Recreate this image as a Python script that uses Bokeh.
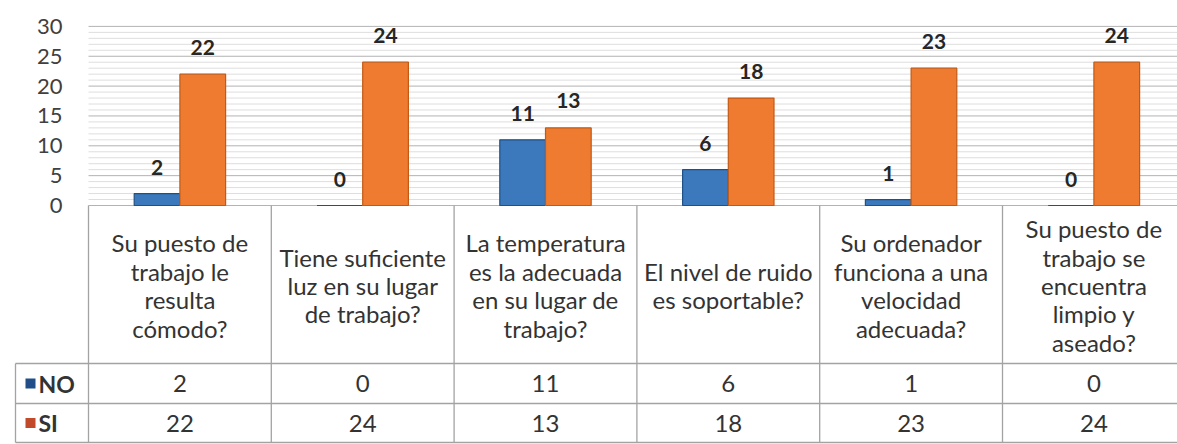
from bokeh.plotting import figure
from bokeh.models import Range1d
from bokeh.embed import file_html
from bokeh.resources import INLINE
from bokeh.core.properties import value

# ---- data ----
categories = [
    "Su puesto de\ntrabajo le\nresulta\ncómodo?",
    "Tiene suficiente\nluz en su lugar\nde trabajo?",
    "La temperatura\nes la adecuada\nen su lugar de\ntrabajo?",
    "El nivel de ruido\nes soportable?",
    "Su ordenador\nfunciona a una\nvelocidad\nadecuada?",
    "Su puesto de\ntrabajo se\nencuentra\nlimpio y\naseado?",
]
series_names = ["NO", "SI"]
no_values = [2, 0, 11, 6, 1, 0]
si_values = [22, 24, 13, 18, 23, 24]
y_ticks = [0, 5, 10, 15, 20, 25, 30]
y_max = 30

# ---- styles ----
FONT = "Lato"
NO_COLOR, NO_EDGE = "#3B78BC", "#1F5186"
SI_COLOR, SI_EDGE = "#EE7B2F", "#C25A16"
NO_SWATCH, SI_SWATCH = "#1F4E89", "#C04A2A"
TEXT = "#333333"
BORDER = "#a3a3a3"

PX_X = 182.8
PX_Y = 5.97
W, H = 1177, 444
x0_px, y0_px = 88, 205   # canvas position of category 0 / value 0

xr = Range1d(-x0_px / PX_X, (W - x0_px) / PX_X)
yr = Range1d(-(H - y0_px) / PX_Y, y0_px / PX_Y)

p = figure(width=W, height=H, x_range=xr, y_range=yr,
           output_backend="svg", toolbar_location=None,
           x_axis_location=None, y_axis_location=None, min_border=0)
p.grid.visible = False
p.outline_line_color = None
p.background_fill_color = "white"

n = len(categories)
x_end = xr.end


def py(px):
    """canvas pixel row -> data y"""
    return -(px - y0_px) / PX_Y


def px_(x):
    """canvas pixel column -> data x"""
    return (x - x0_px) / PX_X


# gridlines
minor = [v for v in range(0, y_max + 1) if v not in y_ticks]
p.segment(x0=[0] * len(minor), x1=[x_end] * len(minor), y0=minor, y1=minor,
          line_color="#dedede", line_width=1)
p.segment(x0=[0] * len(y_ticks), x1=[x_end] * len(y_ticks), y0=y_ticks, y1=y_ticks,
          line_color="#b3b3b3", line_width=1)

# y tick labels
p.text(x=[px_(62)] * len(y_ticks), y=y_ticks, text=[str(t) for t in y_ticks],
       text_align="right", text_baseline="middle", text_font=value(FONT),
       text_font_size="22px", text_color="#404040")

# bars
bw = 0.25
x_no = [i + 0.5 - bw / 2 for i in range(n)]
x_si = [i + 0.5 + bw / 2 for i in range(n)]
p.vbar(x=x_no, top=no_values, bottom=0, width=bw, fill_color=NO_COLOR,
       line_color=NO_EDGE, line_width=1.2)
p.vbar(x=x_si, top=si_values, bottom=0, width=bw, fill_color=SI_COLOR,
       line_color=SI_EDGE, line_width=1.2)

# data labels
p.text(x=x_no, y=no_values, text=[str(v) for v in no_values], y_offset=-26,
       text_align="center", text_baseline="middle", text_font=value(FONT),
       text_font_size="21px", text_font_style="bold", text_color="#262626")
p.text(x=x_si, y=si_values, text=[str(v) for v in si_values], y_offset=-27,
       text_align="center", text_baseline="middle", text_font=value(FONT),
       text_font_size="21px", text_font_style="bold", text_color="#262626")

# data table
y_head_bot = py(363)
y_no_bot = py(403)
y_si_bot = py(442)
x_left = px_(15)

hy = [y_head_bot, y_no_bot, y_si_bot]
p.segment(x0=[x_left] * 3, x1=[x_end] * 3, y0=hy, y1=hy,
          line_color=BORDER, line_width=1.3)
vx = list(range(0, n + 1))
p.segment(x0=vx, x1=vx, y0=[0] * len(vx), y1=[y_si_bot] * len(vx),
          line_color=BORDER, line_width=1.3)
p.segment(x0=[x_left], x1=[x_left], y0=[y_head_bot], y1=[y_si_bot],
          line_color=BORDER, line_width=1.3)

# header labels
p.text(x=[i + 0.5 for i in range(n)], y=[py(285)] * n, text=categories,
       text_align="center", text_baseline="middle", text_font=value(FONT),
       text_font_size="24px", text_line_height=0.98, text_color=TEXT)

# row values
y_no_mid = (y_head_bot + y_no_bot) / 2
y_si_mid = (y_no_bot + y_si_bot) / 2
cx = [i + 0.5 for i in range(n)]
p.text(x=cx, y=[y_no_mid] * n, text=[str(v) for v in no_values],
       text_align="center", text_baseline="middle", text_font=value(FONT),
       text_font_size="24px", text_color=TEXT)
p.text(x=cx, y=[y_si_mid] * n, text=[str(v) for v in si_values],
       text_align="center", text_baseline="middle", text_font=value(FONT),
       text_font_size="24px", text_color=TEXT)

# legend keys in the table
sw_x = px_(30)
p.scatter(x=[sw_x, sw_x], y=[y_no_mid, y_si_mid], marker="square", size=10,
          fill_color=[NO_SWATCH, SI_SWATCH], line_color=None)
p.text(x=[px_(38)] * 2, y=[y_no_mid, y_si_mid], text=series_names,
       text_align="left", text_baseline="middle", text_font=value(FONT),
       text_font_size="23px", text_font_style="bold", text_color=TEXT)

open("out.html", "w").write(file_html(p, INLINE))
